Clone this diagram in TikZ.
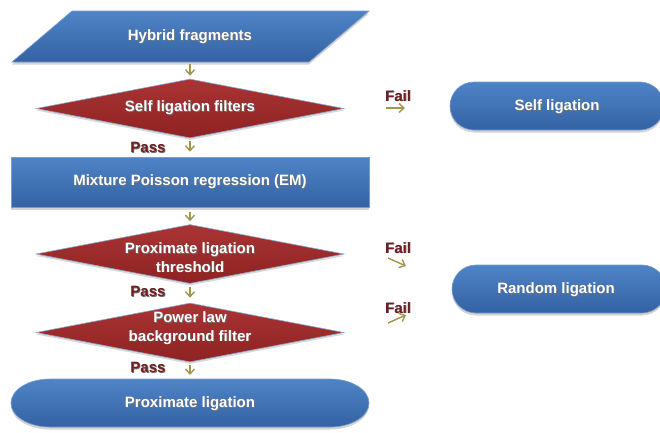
\documentclass[tikz,border=0pt]{standalone}
\usepackage{fontspec}
\setmainfont{Liberation Sans}
\usetikzlibrary{shapes.geometric,shapes.misc,arrows.meta,shadows}
\definecolor{boxblue}{RGB}{62,114,182}
\definecolor{boxbluetop}{RGB}{78,132,198}
\definecolor{boxbluebot}{RGB}{52,98,164}
\definecolor{dredtop}{RGB}{170,52,52}
\definecolor{dredbot}{RGB}{142,34,34}
\definecolor{passred}{RGB}{112,30,34}
\definecolor{olive}{RGB}{160,150,80}
\newcommand\shtxt[1]{\rlap{\hspace{0.7pt}\raisebox{-0.7pt}{\textcolor{black!55}{#1}}}#1}
\tikzset{
  lbl/.style={font=\fontsize{15}{18.5}\selectfont\bfseries, text=white, align=center, inner sep=0pt},
  bluefill/.style={top color=boxbluetop, bottom color=boxbluebot, draw=boxblue!70!white, line width=0.6pt,
    drop shadow={opacity=0.35, shadow xshift=0pt, shadow yshift=-2.5pt}},
  redfill/.style={top color=dredtop, bottom color=dredbot, draw=boxblue!60!white, line width=0.6pt,
    drop shadow={opacity=0.3, shadow xshift=0pt, shadow yshift=-2pt}},
  decision/.style={diamond, redfill, inner sep=0pt, minimum width=308pt, minimum height=59pt},
  pill/.style={rounded rectangle, bluefill, inner sep=0pt, minimum height=48pt},
  passlbl/.style={font=\fontsize{15}{18}\selectfont\bfseries, text=passred, inner sep=0pt},
  flow/.style={draw=olive, line width=1.4pt, -{Straight Barb[length=5pt,width=9pt]}},
}
\begin{document}
\begin{tikzpicture}[x=1pt,y=-1pt]
\useasboundingbox (0,0) rectangle (660,432);
% parallelogram
\path[bluefill] (12,62) -- (309,62) -- (369,11) -- (72,11) -- cycle;
\node[lbl] (hyb) at (190,37) {\shtxt{Hybrid fragments}};
\coordinate (hybs) at (190,62);
% decision 1
\node[decision] (d1) at (190,108.5) {};
\node[lbl] (d1t) at (190,108) {\shtxt{Self ligation filters}};
% rectangle
\node[rectangle, bluefill, minimum width=358pt, minimum height=50pt, inner sep=0pt] (em) at (190,182) {};
\node[lbl] (emt) at (190,182) {\shtxt{Mixture Poisson regression (EM)}};
% decision 2
\node[decision] (d2) at (190,254) {};
\node[lbl] (d2t) at (190,258) {\shtxt{Proximate ligation}\\\shtxt{threshold}};
% decision 3
\node[decision] (d3) at (190,332.5) {};
\node[lbl] (d3t) at (190,328.5) {\shtxt{Power law}\\\shtxt{background filter}};
% final pill with elliptical ends
\path[bluefill] (50,379) -- (330,379) arc[start angle=90, end angle=-90, x radius=39pt, y radius=24pt]
  -- (50,427) arc[start angle=270, end angle=90, x radius=39pt, y radius=24pt] -- cycle;
\coordinate (proxn) at (190,379);
\node[lbl] (prox) at (190,404) {\shtxt{Proximate ligation}};
% right pills
\node[pill, minimum width=214pt] (self) at (557,106) {};
\node[lbl] (selft) at (557,107) {\shtxt{Self ligation}};
\node[pill, minimum width=214pt] (rand) at (559,289) {};
\node[lbl] (randt) at (556,290) {\shtxt{Random ligation}};
% pass labels
\node[passlbl] (p1) at (148,148) {\shtxt{Pass}};
\node[passlbl] (p2) at (148,292) {\shtxt{Pass}};
\node[passlbl] (p3) at (148,368) {\shtxt{Pass}};
% fail labels
\node[passlbl] (f1) at (398,96) {\shtxt{Fail}};
\node[passlbl] (f2) at (398,248) {\shtxt{Fail}};
\node[passlbl] (f3) at (398,308) {\shtxt{Fail}};
% vertical arrows
\draw[flow, shorten <=2pt, shorten >=3pt] (hybs) -- (d1.north);
\draw[flow, shorten <=3pt, shorten >=5pt] (d1.south) -- (em.north);
\draw[flow, shorten <=5pt, shorten >=3pt] (em.south) -- (d2.north);
\draw[flow, shorten <=3pt, shorten >=5pt] (d2.south) -- (d3.north);
\draw[flow, shorten <=3pt, shorten >=4pt] (d3.south) -- (proxn);
% fail arrows
\coordinate (a1s) at (386,108);
\coordinate (a1e) at (405,108);
\coordinate (a2s) at (388,258);
\coordinate (a2e) at (406,266);
\coordinate (a3s) at (388,323);
\coordinate (a3e) at (406,315);
\draw[flow] (a1s) -- (a1e);
\draw[flow] (a2s) -- (a2e);
\draw[flow] (a3s) -- (a3e);
\end{tikzpicture}
\end{document}
